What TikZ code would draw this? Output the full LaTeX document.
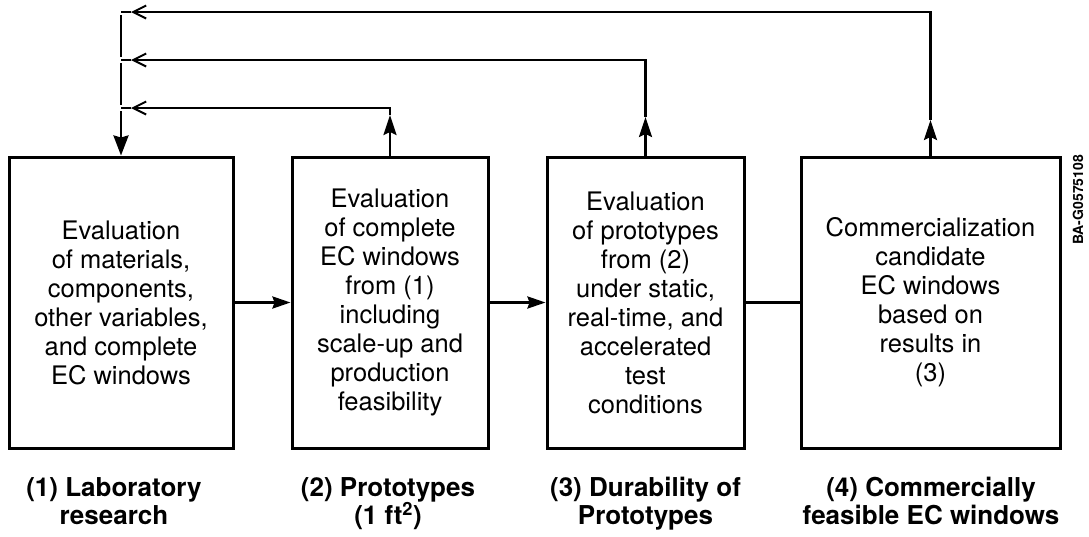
\documentclass[tikz,border=0pt]{standalone}
\usepackage{fontspec}
\setmainfont{TeX Gyre Heros}
\usetikzlibrary{arrows.meta}
\begin{document}
\begin{tikzpicture}[x=1pt,y=-1pt,
  box/.style={draw, line width=3pt, align=center, inner sep=0pt,
    minimum height=291pt, font=\fontsize{25.5}{29}\selectfont},
  lab/.style={align=center, inner sep=0pt, font=\fontsize{26}{28}\selectfont\bfseries},
  link/.style={line width=2.6pt},
  uphead/.style={-{Stealth[length=20pt,width=13pt,inset=3pt]}},
  sidehead/.style={-{Stealth[length=18pt,width=12pt,inset=2pt]}},
  downhead/.style={-{Stealth[length=20pt,width=15pt,inset=2pt]}},
  barb/.style={-{Straight Barb[length=13pt,width=13pt,line width=2pt]}}
]
\useasboundingbox (0,0) rectangle (1089,536);

% the four stages
\node[box, minimum width=224pt] (b1) at (121,302.5)
  {Evaluation\\of materials,\\components,\\other variables,\\and complete\\EC windows};
\node[box, minimum width=196pt] (b2) at (390,302.5)
  {Evaluation\\of complete\\EC windows\\from (1)\\including\\scale-up and\\production\\feasibility};
\node[box, minimum width=197pt] (b3) at (645.5,302.5)
  {Evaluation\\of prototypes\\from (2)\\under static,\\real-time, and\\accelerated\\test\\conditions};
\node[box, minimum width=259pt] (b4) at (930.5,302.5)
  {Commercialization\\candidate\\EC windows\\based on\\results in\\(3)};

% stage captions
\node[lab] (c1) at (114,501) {(1) Laboratory\\research};
\node[lab] (c2) at (388,504) {(2) Prototypes\\(1 ft\textsuperscript{2})};
\node[lab] (c3) at (645.5,504) {(3) Durability of\\Prototypes};
\node[lab] (c4) at (931,501) {(4) Commercially\\feasible EC windows};

% drawing code
\node[rotate=90, inner sep=0pt, font=\fontsize{14}{16}\selectfont\bfseries] (code) at (1078,200) {BA-G0575108};

% forward flow
\draw[link, sidehead] (b1.east) -- (b2.west);
\draw[link, sidehead] (b2.east) -- (b3.west);
\draw[link] (b3.east) -- (b4.west);

% feedback return rail
\coordinate (l2) at (121,108);
\coordinate (l3) at (121,60);
\coordinate (l4) at (121,12);
\coordinate (h2) at (131,108);
\coordinate (h3) at (131,60);
\coordinate (h4) at (131,12);
\coordinate (t2) at (b2.north |- l2);
\coordinate (t3) at (b3.north |- l3);
\coordinate (t4) at (b4.north |- l4);
\coordinate (m2) at (b2.north |- 0,115);
\coordinate (m3) at (b3.north |- 0,117);
\coordinate (m4) at (b4.north |- 0,120);

\draw[link, uphead] (b2.north) -- (m2);
\draw[link, barb] (m2) -- (t2) -- (h2);
\draw[link] (h2) -- (l2);

\draw[link, uphead] (b3.north) -- (m3);
\draw[link, barb] (m3) -- (t3) -- (h3);
\draw[link] (h3) -- (l3);

\draw[link, uphead] (b4.north) -- (m4);
\draw[link, barb] (m4) -- (t4) -- (h4);
\draw[link] (h4) -- (l4);

\draw[link, shorten <=3pt, shorten >=3pt] (l4) -- (l3);
\draw[link, shorten <=3pt, shorten >=3pt] (l3) -- (l2);
\draw[link, shorten <=3pt, downhead] (l2) -- (b1.north);
\end{tikzpicture}
\end{document}
